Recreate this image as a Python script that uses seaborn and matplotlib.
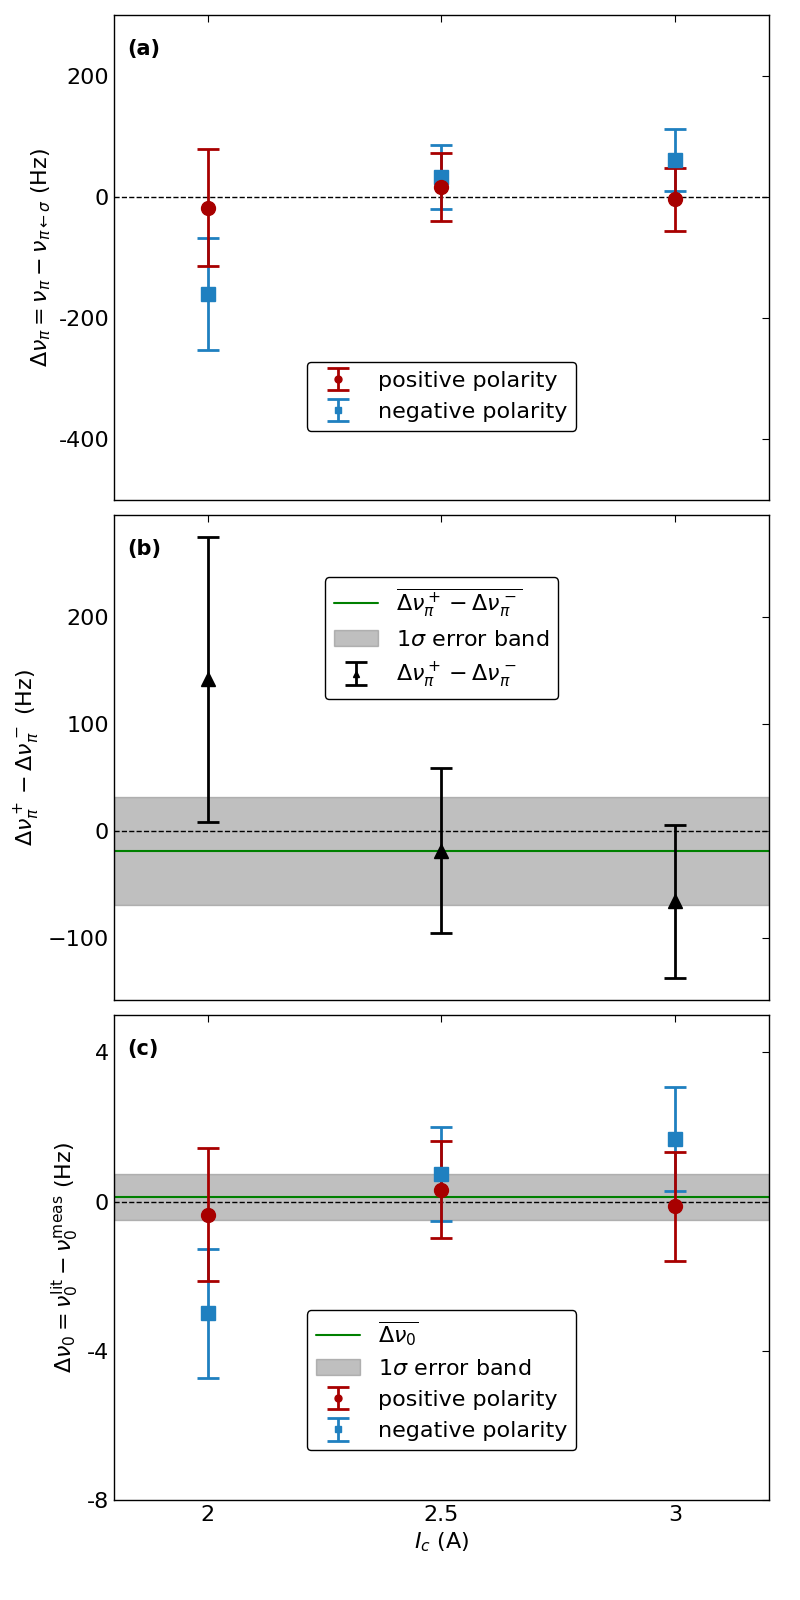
import numpy as np
import pandas as pd
import matplotlib
matplotlib.use("Agg")
import matplotlib.pyplot as plt
import seaborn as sns

# -------------------------------
# Data
# -------------------------------
current = [2.0, 2.5, 3.0]

# panel (a): delta nu_pi
a_pos = [-17.5, 16.5, -4.0]
a_pos_err = [97.0, 56.0, 52.0]
a_neg = [-160.0, 33.0, 61.0]
a_neg_err = [92.5, 53.0, 51.0]

# panel (b): difference of polarities
b_diff = [142.0, -18.0, -65.5]
b_diff_err = [133.0, 77.0, 71.5]
b_mean = -18.0
b_band = 50.5

# panel (c): delta nu_0
c_pos = [-0.35, 0.32, -0.13]
c_pos_err = [1.78, 1.31, 1.47]
c_neg = [-3.0, 0.75, 1.68]
c_neg_err = [1.72, 1.26, 1.40]
c_mean = 0.13
c_band = 0.62

a_ticks = [200, 0, -200, -400]
a_ticklabels = ["200", "0", "-200", "-400"]
c_ticks = [4, 0, -4, -8]
c_ticklabels = ["4", "0", "-4", "-8"]
x_ticks = [2, 2.5, 3]
x_ticklabels = ["2", "2.5", "3"]

red = "#a80000"
blue = "#1f80c0"

# -------------------------------
# Style
# -------------------------------
sns.set_style("white")
plt.rcParams["font.family"] = ["DejaVu Sans"]
plt.rcParams["font.size"] = 16
plt.rcParams["text.color"] = "black"
plt.rcParams["axes.labelcolor"] = "black"
plt.rcParams["xtick.color"] = "black"
plt.rcParams["ytick.color"] = "black"
plt.rcParams["xtick.direction"] = "in"
plt.rcParams["ytick.direction"] = "in"
plt.rcParams["xtick.top"] = True
plt.rcParams["ytick.right"] = True
plt.rcParams["xtick.major.size"] = 5
plt.rcParams["ytick.major.size"] = 5
plt.rcParams["axes.edgecolor"] = "black"
plt.rcParams["axes.linewidth"] = 1.0

fig, axes = plt.subplots(3, 1, figsize=(8, 16), sharex=True)
fig.subplots_adjust(left=0.1425, right=0.961, top=0.9906, bottom=0.0625, hspace=0.031)

eb_kw = dict(ls="none", ms=10, lw=2, capsize=8, capthick=2)
leg_kw = dict(markerscale=0.5, edgecolor="black", framealpha=1, fontsize=16)

# -------------------------------
# Panel (a)
# -------------------------------
ax = axes[0]
ax.axhline(0, color="black", ls="--", lw=1)
h_neg = ax.errorbar(current, a_neg, yerr=a_neg_err, fmt="s", color=blue, **eb_kw)
h_pos = ax.errorbar(current, a_pos, yerr=a_pos_err, fmt="o", color=red, **eb_kw)
ax.set_ylim(-500, 300)
ax.set_yticks(a_ticks)
ax.set_yticklabels(a_ticklabels)
ax.set_ylabel(r"$\Delta\nu_\pi = \nu_\pi - \nu_{\pi\leftarrow\sigma}$ (Hz)")
ax.legend([h_pos, h_neg], ["positive polarity", "negative polarity"],
          loc="lower center", bbox_to_anchor=(0.5, 0.12), **leg_kw)
ax.text(0.02, 0.95, "(a)", transform=ax.transAxes, fontsize=15,
        fontweight="bold", va="top", ha="left")

# -------------------------------
# Panel (b)
# -------------------------------
ax = axes[1]
ax.axhline(0, color="black", ls="--", lw=1)
band = ax.axhspan(b_mean - b_band, b_mean + b_band, color="gray", alpha=0.5)
line, = ax.plot([1.8, 3.2], [b_mean, b_mean], color="green", lw=1.5)
h_b = ax.errorbar(current, b_diff, yerr=b_diff_err, fmt="^", color="black", **eb_kw)
ax.set_ylabel(r"$\Delta\nu_\pi^+ - \Delta\nu_\pi^-$ (Hz)")
ax.set_yticks([200, 100, 0, -100])
ax.legend([line, band, h_b],
          [r"$\overline{\Delta\nu_\pi^+ - \Delta\nu_\pi^-}$", r"1$\sigma$ error band",
           r"$\Delta\nu_\pi^+ - \Delta\nu_\pi^-$"],
          loc="upper center", bbox_to_anchor=(0.5, 0.895), **leg_kw)
ax.text(0.02, 0.95, "(b)", transform=ax.transAxes, fontsize=15,
        fontweight="bold", va="top", ha="left")

# -------------------------------
# Panel (c)
# -------------------------------
ax = axes[2]
ax.axhline(0, color="black", ls="--", lw=1)
band = ax.axhspan(c_mean - c_band, c_mean + c_band, color="gray", alpha=0.5)
line, = ax.plot([1.8, 3.2], [c_mean, c_mean], color="green", lw=1.5)
h_neg = ax.errorbar(current, c_neg, yerr=c_neg_err, fmt="s", color=blue, **eb_kw)
h_pos = ax.errorbar(current, c_pos, yerr=c_pos_err, fmt="o", color=red, **eb_kw)
ax.set_ylim(-8, 5)
ax.set_yticks(c_ticks)
ax.set_yticklabels(c_ticklabels)
ax.set_ylabel(r"$\Delta\nu_0 = \nu_0^{\rm lit} - \nu_0^{\rm meas}$ (Hz)")
ax.legend([line, band, h_pos, h_neg],
          [r"$\overline{\Delta\nu_0}$", r"1$\sigma$ error band",
           "positive polarity", "negative polarity"],
          loc="lower center", bbox_to_anchor=(0.5, 0.08), **leg_kw)
ax.text(0.02, 0.95, "(c)", transform=ax.transAxes, fontsize=15,
        fontweight="bold", va="top", ha="left")

ax.set_xlim(1.8, 3.2)
ax.set_xticks(x_ticks)
ax.set_xticklabels(x_ticklabels)
ax.set_xlabel(r"$I_c$ (A)")

fig.savefig("out.png", dpi=100)
